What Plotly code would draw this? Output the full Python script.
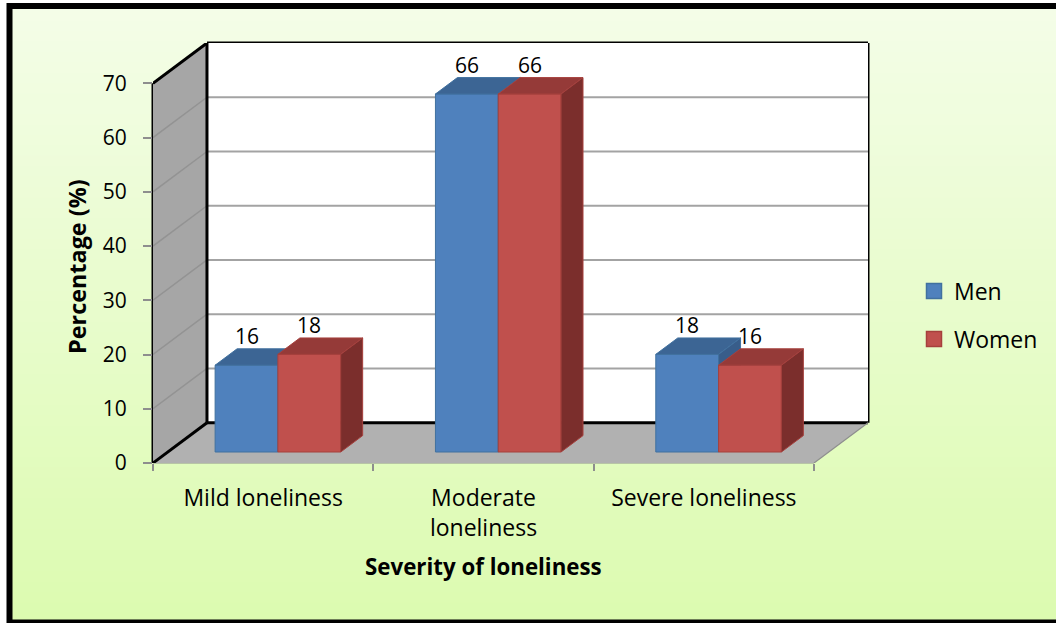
import plotly.graph_objects as go

# ---------------- data ----------------
categories = ["Mild loneliness", "Moderate<br>loneliness", "Severe loneliness"]
series_names = ["Men", "Women"]
men = [16, 66, 18]
women = [18, 66, 16]
y_ticks = [0, 10, 20, 30, 40, 50, 60, 70]
x_title = "Severity of loneliness"
y_title = "Percentage (%)"

# ---------------- geometry / style ----------------
W, H = 1056, 623
L, R, T, B = 153, 188, 43, 160
PW, PH = W - L - R, H - T - B
YMAX = 70
DX, DY = 0.245, 7.43          # depth shift of the back wall (axis units)
D0, D1 = 0.273, 0.68          # bar depth (fraction of wall depth)
BW = 0.285                    # bar width (category units)
FONT = "Open Sans"
FS_NUM = 21                   # digits
FS_TXT = 23                   # words

colors = {
    "Men": dict(front="#4f81bd", top="#3c6594", side="#385d8a", edge="#41719f"),
    "Women": dict(front="#c0504d", top="#953a38", side="#7b2e2c", edge="#a6403d"),
}


def px(x):
    return (x - L) / PW


def py(y):
    return (H - B - y) / PH


fig = go.Figure()

# ---------------- bars (front / top / side faces) ----------------
ox0, oy0 = DX * D0, DY * D0
ox1, oy1 = DX * D1, DY * D1
label_ann = []
for i, cat in enumerate(categories):
    for s, (name, vals) in enumerate(zip(series_names, [men, women])):
        v = vals[i]
        c = colors[name]
        xl = i - BW + s * BW
        xr = xl + BW
        faces = [
            ([xl + ox0, xr + ox0, xr + ox0, xl + ox0, xl + ox0],
             [oy0, oy0, oy0 + v, oy0 + v, oy0], c["front"]),
            ([xl + ox0, xr + ox0, xr + ox1, xl + ox1, xl + ox0],
             [oy0 + v, oy0 + v, oy1 + v, oy1 + v, oy0 + v], c["top"]),
            ([xr + ox0, xr + ox1, xr + ox1, xr + ox0, xr + ox0],
             [oy0, oy1, oy1 + v, oy0 + v, oy0], c["side"]),
        ]
        for fx, fy, fc in faces:
            fig.add_trace(go.Scatter(
                x=fx, y=fy, mode="lines", fill="toself", fillcolor=fc,
                line=dict(color=c["edge"], width=1), showlegend=False,
                hoverinfo="skip"))
        label_ann.append(dict(
            x=(xl + xr) / 2 + ox0, y=oy0 + v, xref="x", yref="y",
            text=str(v), showarrow=False, yanchor="middle", yshift=29,
            font=dict(family=FONT, size=FS_NUM, color="black")))

# legend entries
for k, name in enumerate(series_names):
    fig.add_trace(go.Scatter(
        x=[None], y=[None], mode="markers", name=name,
        marker=dict(symbol="square", size=15, color=colors[name]["front"],
                    line=dict(color=colors[name]["edge"], width=1.5)),
        legend="legend" if k == 0 else "legend2"))

# invisible trace to carry the secondary x axis (boundary ticks)
fig.add_trace(go.Scatter(x=[None], y=[None], xaxis="x2", showlegend=False,
                         hoverinfo="skip"))

# ---------------- shapes: background, walls, floor ----------------
shapes = []
N = 60
top_c = (0xF4, 0xFD, 0xE8)
bot_c = (0xDC, 0xFB, 0xB0)
for k in range(N):
    t = k / (N - 1)
    col = tuple(round(top_c[j] + (bot_c[j] - top_c[j]) * t) for j in range(3))
    y_top = k * H / N
    y_bot = (k + 1) * H / N + 1
    shapes.append(dict(type="rect", xref="paper", yref="paper", layer="below",
                       x0=px(0), x1=px(W), y0=py(y_bot), y1=py(y_top),
                       fillcolor="rgb(%d,%d,%d)" % col, line=dict(width=0)))
# white strip outside the frame (top / left)
shapes.append(dict(type="rect", xref="paper", yref="paper", layer="below",
                   x0=px(0), x1=px(W), y0=py(4), y1=py(0),
                   fillcolor="white", line=dict(width=0)))
shapes.append(dict(type="rect", xref="paper", yref="paper", layer="below",
                   x0=px(0), x1=px(8), y0=py(H), y1=py(0),
                   fillcolor="white", line=dict(width=0)))

XL, XR = -0.5, 2.5
# back wall
shapes.append(dict(type="rect", xref="x", yref="y", layer="below",
                   x0=XL + DX, x1=XR + DX, y0=DY, y1=YMAX + DY,
                   fillcolor="white", line=dict(width=0)))
# side wall
shapes.append(dict(type="path", xref="x", yref="y", layer="below",
                   path=f"M {XL},0 L {XL+DX},{DY} L {XL+DX},{YMAX+DY} L {XL},{YMAX} Z",
                   fillcolor="#a6a6a6", line=dict(width=0)))
# floor
shapes.append(dict(type="path", xref="x", yref="y", layer="below",
                   path=f"M {XL},0 L {XR},0 L {XR+DX},{DY} L {XL+DX},{DY} Z",
                   fillcolor="#b1b1b1", line=dict(width=0)))
# gridlines
for v in y_ticks[1:-1]:
    shapes.append(dict(type="line", xref="x", yref="y", layer="below",
                       x0=XL + DX, x1=XR + DX, y0=v + DY, y1=v + DY,
                       line=dict(color="#a3a3a3", width=2)))
    shapes.append(dict(type="line", xref="x", yref="y", layer="below",
                       x0=XL, x1=XL + DX, y0=v, y1=v + DY,
                       line=dict(color="#939393", width=1.5)))
# black edges
blk = dict(color="black", width=3)
shapes += [
    dict(type="line", xref="paper", yref="y", layer="below", x0=0, x1=0, y0=0, y1=YMAX, line=blk),
    dict(type="line", xref="x", yref="y", layer="below", x0=XL, x1=XL + DX, y0=YMAX, y1=YMAX + DY, line=blk),
    dict(type="line", xref="x", yref="paper", layer="below", x0=XL + DX, x1=XR + DX, y0=1, y1=1, line=blk),
    dict(type="line", xref="x", yref="y", layer="below", x0=XL + DX, x1=XL + DX, y0=DY, y1=YMAX + DY, line=blk),
    dict(type="line", xref="paper", yref="y", layer="below", x0=1, x1=1, y0=DY, y1=YMAX + DY, line=blk),
    dict(type="line", xref="x", yref="y", layer="below", x0=XL + DX, x1=XR + DX, y0=DY, y1=DY, line=blk),
    dict(type="line", xref="x", yref="y", layer="below", x0=XL, x1=XL + DX, y0=0, y1=DY, line=blk),
]
gry = dict(color="#8e8e8e", width=1.2)
shapes += [
    dict(type="line", xref="x", yref="paper", layer="below", x0=XL, x1=XR, y0=0, y1=0, line=gry),
    dict(type="line", xref="x", yref="y", layer="below", x0=XR, x1=XR + DX, y0=0, y1=DY, line=gry),
]
# outer frame
shapes.append(dict(type="rect", xref="paper", yref="paper", layer="above",
                   x0=px(9.5), x1=px(1062), y0=py(622.5), y1=py(6),
                   fillcolor="rgba(0,0,0,0)", line=dict(color="black", width=6)))

# ---------------- annotations ----------------
ann = list(label_ann)
ann.append(dict(x=px(77), y=py(267), xref="paper", yref="paper", text="<b>" + y_title + "</b>",
                textangle=-90, showarrow=False, xanchor="center", yanchor="middle",
                font=dict(family=FONT, size=23.4, color="black")))
ann.append(dict(x=px(483), y=py(566), xref="paper", yref="paper", text="<b>" + x_title + "</b>",
                showarrow=False, xanchor="center", yanchor="middle",
                font=dict(family=FONT, size=22.3, color="black")))

fig.update_layout(
    width=W, height=H,
    margin=dict(l=L, r=R, t=T, b=B, pad=0),
    paper_bgcolor="#e8fccc", plot_bgcolor="rgba(0,0,0,0)",
    font=dict(family=FONT, size=FS_TXT, color="black"),
    shapes=shapes, annotations=ann,
    xaxis=dict(range=[XL, XR + DX], tickvals=[0, 1, 2], ticktext=categories,
               ticks="", showgrid=False, zeroline=False, showline=False,
               ticklabelstandoff=19, tickfont=dict(family=FONT, size=FS_TXT, color="black")),
    xaxis2=dict(range=[XL, XR + DX], overlaying="x", anchor="y", side="bottom",
                tickvals=[-0.5, 0.5, 1.5, 2.5], ticks="outside", ticklen=7,
                tickcolor="#8e8e8e", tickwidth=1.5, showticklabels=False,
                showgrid=False, zeroline=False, showline=False),
    yaxis=dict(range=[0, YMAX + DY], tickvals=y_ticks, ticks="outside", ticklen=9,
               tickcolor="#8e8e8e", tickwidth=1.5, showgrid=False, zeroline=False,
               showline=False, ticklabelstandoff=12,
               tickfont=dict(family=FONT, size=FS_NUM, color="black")),
    legend=dict(x=px(914), y=py(291), xanchor="left", yanchor="middle",
                bgcolor="rgba(0,0,0,0)", font=dict(family=FONT, size=FS_TXT, color="black")),
    legend2=dict(x=px(914), y=py(339), xanchor="left", yanchor="middle",
                 bgcolor="rgba(0,0,0,0)", font=dict(family=FONT, size=FS_TXT, color="black")),
)

fig.write_html("out.html", config={"displayModeBar": False},
               post_script="document.body.style.margin='0px';")
